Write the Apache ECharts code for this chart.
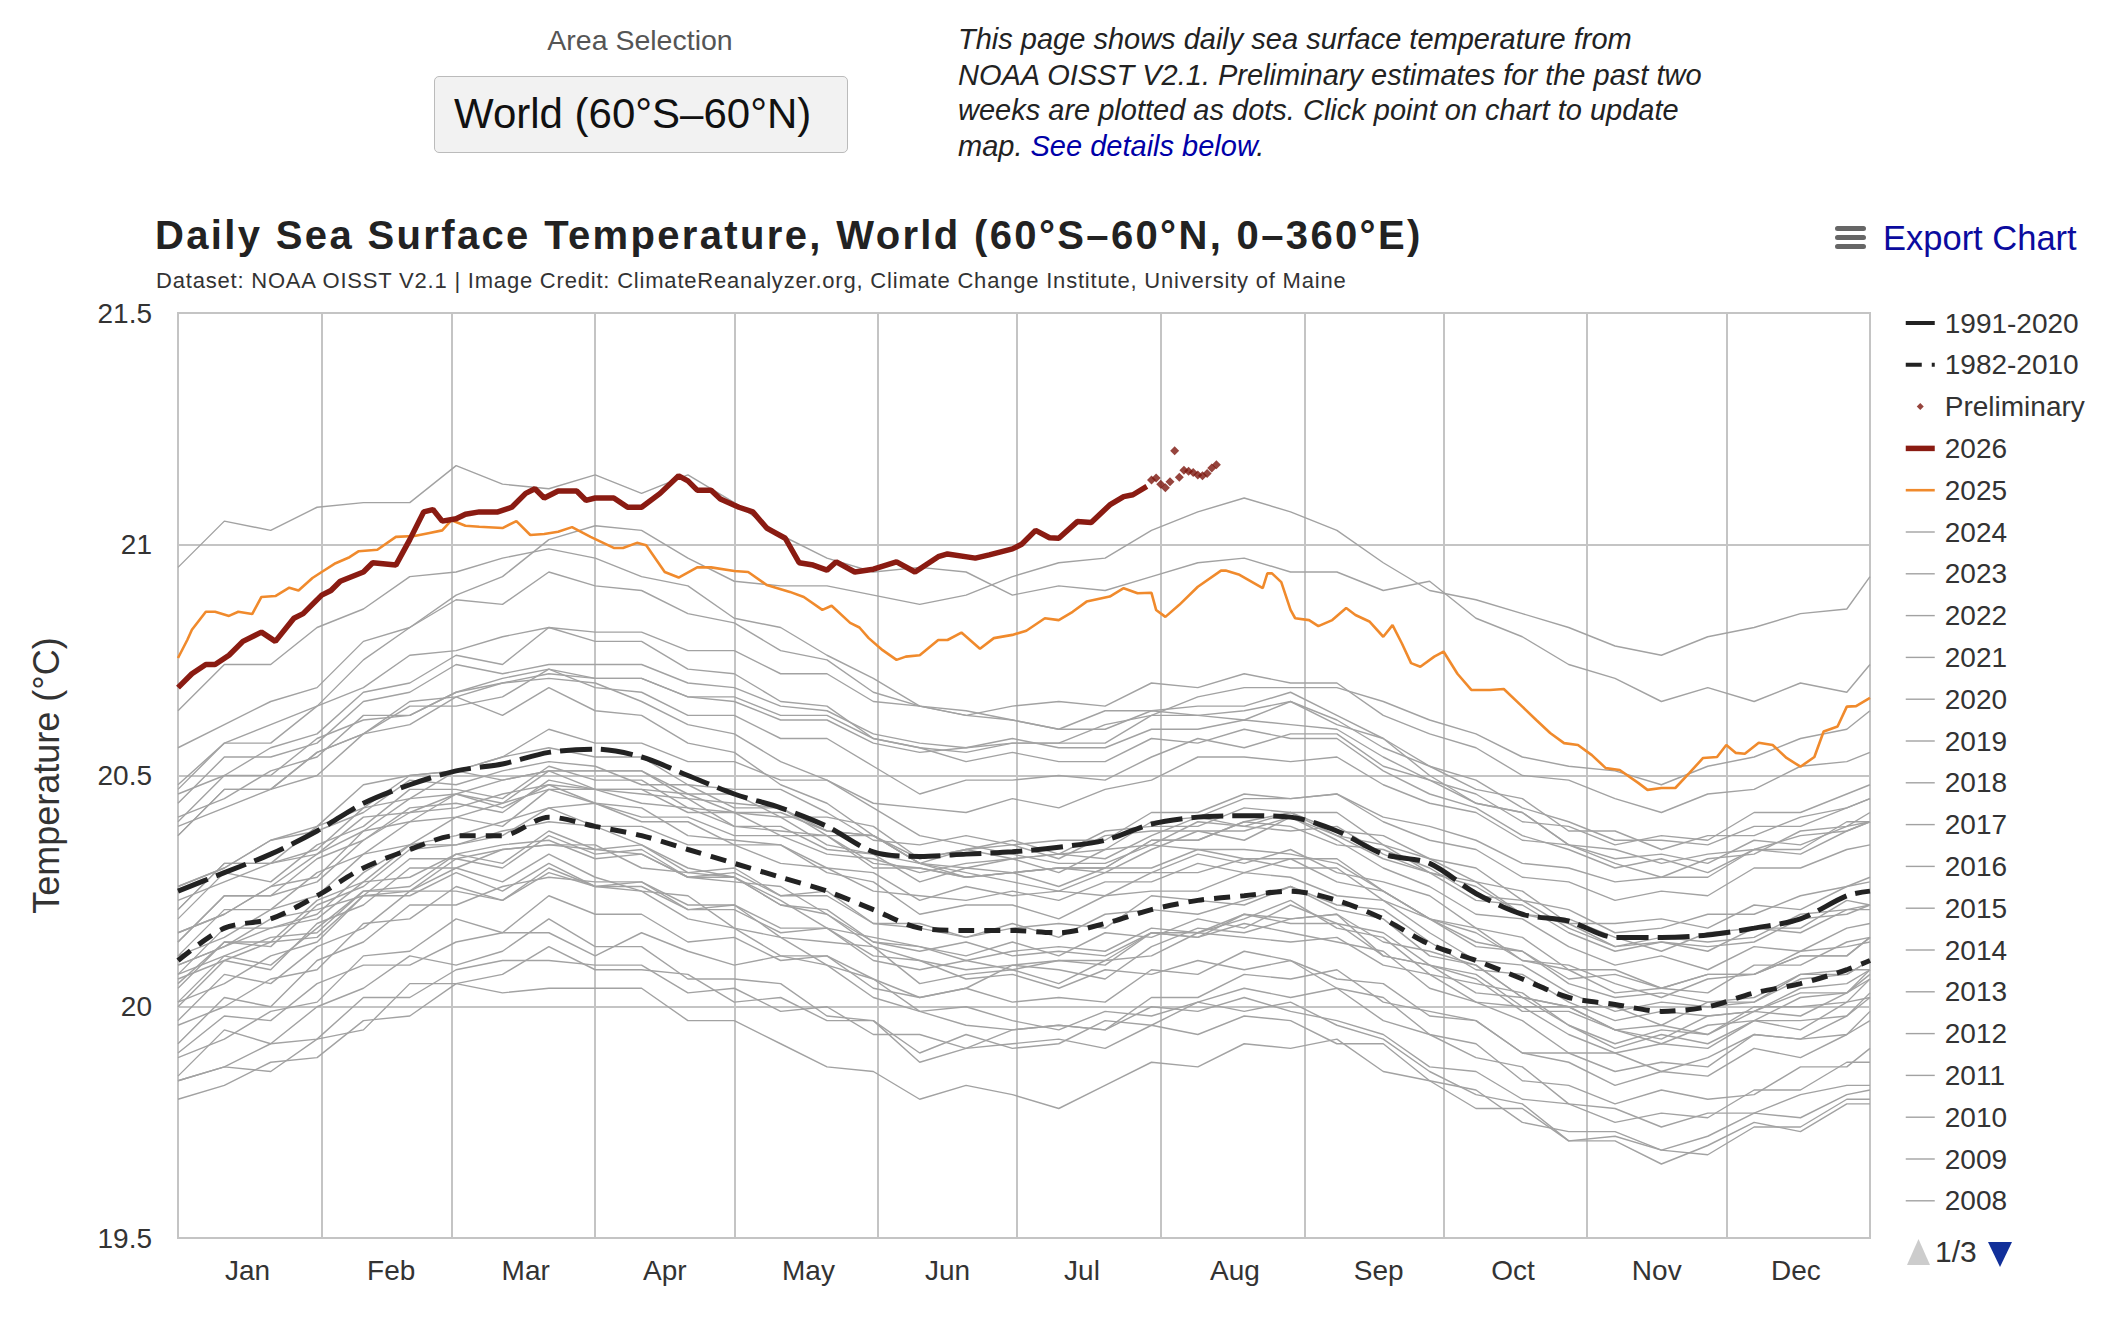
<!DOCTYPE html>
<html>
<head>
<meta charset="utf-8">
<title>Daily Sea Surface Temperature</title>
<script src="https://cdn.jsdelivr.net/npm/echarts@6/dist/echarts.min.js"></script>
<style>
  html, body { margin: 0; padding: 0; background: #ffffff; width: 2128px; height: 1324px; overflow: hidden; }
  #chart { position: absolute; left: 0; top: 0; width: 2128px; height: 1324px; }
  .hdr { position: absolute; font-family: 'Liberation Sans', Arial, Helvetica, sans-serif; white-space: nowrap; }
  /* letter spacing of the chart title / subtitle (SVG text) */
  #chart svg text[style*="40px"] { letter-spacing: 2.35px; }
  #chart svg text[style*="22px"] { letter-spacing: 0.8px; }
</style>
</head>
<body>
<div id="chart"></div>
<div class="hdr" style="left:440px; top:25px; width:400px; text-align:center; font-size:28.5px; line-height:30px; color:#555;">Area Selection</div>
<div class="hdr" style="left:434px; top:76px; width:414px; height:77px; box-sizing:border-box; background:#f2f2f2; border:1.5px solid #bbbbbb; border-radius:5px; font-size:42px; line-height:74px; padding-left:19px; color:#111;">World (60°S–60°N)</div>
<div class="hdr" style="left:958px; top:22px; font-size:29px; line-height:35.5px; font-style:italic; color:#222;">This page shows daily sea surface temperature from<br>NOAA OISST V2.1. Preliminary estimates for the past two<br>weeks are plotted as dots. Click point on chart to update<br>map. <span style="color:#0000a8;">See details below</span>.</div>
<script>
const FONT = "'Liberation Sans', Arial, Helvetica, sans-serif";

// ---------- axis scaffolding (day boundaries 0..365, 0 = start of Jan 1) ----------
const MONTHS = ['Jan','Feb','Mar','Apr','May','Jun','Jul','Aug','Sep','Oct','Nov','Dec'];
const MONTH_START_IDX = [0,31,59,90,120,151,181,212,243,273,304,334,365];
const MONTH_LABEL_IDX = [15,46,75,105,136,166,195,228,259,288,319,349];
const DAY_CATEGORIES = Array.from({length: 366}, (_, i) => String(i));
const Y_MIN = 19.5, Y_MAX = 21.5, Y_STEP = 0.5;
const LEGEND_PAGE_TEXT = '1/3';

// ---------- sampled days ----------
const SAMPLE_DAYS = [0,10,20,30,40,50,60,70,80,90,100,110,120,130,140,150,160,170,180,190,200,210,220,230,240,250,260,270,280,290,300,310,320,330,340,350,360,365];

// ---------- climatologies ----------
const MEAN_1991_2020 = [20.25,20.29,20.33,20.38,20.44,20.48,20.51,20.525,20.55,20.557,20.54,20.50,20.46,20.43,20.39,20.335,20.325,20.33,20.335,20.345,20.36,20.395,20.41,20.413,20.41,20.38,20.33,20.31,20.245,20.20,20.185,20.15,20.15,20.155,20.17,20.19,20.24,20.25];
const MEAN_1982_2010 = [20.10,20.17,20.19,20.24,20.30,20.34,20.37,20.37,20.41,20.39,20.37,20.34,20.31,20.28,20.25,20.21,20.17,20.165,20.165,20.16,20.18,20.21,20.23,20.24,20.25,20.23,20.19,20.135,20.10,20.06,20.02,20.005,19.99,20.00,20.03,20.05,20.08,20.10];

// ---------- 2026 (line) ----------
const DAYS_2026 = [0,3,6,8,11,14,18,21,25,27,31,33,35,40,42,47,50,53,55,57,60,62,65,69,72,75,77,79,82,86,88,90,94,97,100,104,108,110,112,115,117,121,124,127,131,134,137,140,142,146,150,155,159,164,166,172,175,180,182,185,188,190,194,197,201,204,206,209];
const VALS_2026 = [20.69,20.72,20.74,20.74,20.76,20.79,20.81,20.79,20.84,20.85,20.89,20.90,20.92,20.94,20.96,20.955,21.01,21.07,21.075,21.05,21.055,21.065,21.07,21.07,21.08,21.11,21.12,21.10,21.115,21.115,21.095,21.10,21.10,21.08,21.08,21.11,21.148,21.137,21.117,21.117,21.098,21.08,21.07,21.035,21.013,20.96,20.955,20.944,20.962,20.94,20.946,20.962,20.94,20.973,20.979,20.97,20.977,20.99,21.0,21.03,21.014,21.013,21.049,21.047,21.085,21.103,21.107,21.125];

// ---------- preliminary (dots) ----------
const DAYS_PRELIM = [210,211,212,213,214,215,216,217,218,219,220,221,222,223,224];
const VALS_PRELIM = [21.139,21.143,21.13,21.122,21.135,21.202,21.145,21.16,21.158,21.155,21.15,21.148,21.153,21.165,21.172];

// ---------- 2025 (line) ----------
const DAYS_2025 = [0,2,3,6,8,11,13,16,18,21,24,26,29,31,34,37,39,43,47,51,54,57,59,62,65,70,73,76,79,82,85,89,94,96,99,101,105,108,112,115,120,123,127,132,135,139,141,145,147,149,152,155,157,160,164,166,169,173,176,180,183,187,190,193,196,201,204,207,210,211,213,216,220,225,226,229,234,235,236,238,240,241,244,246,249,252,254,257,260,262,264,266,268,271,273,276,279,283,286,290,293,296,299,302,305,308,311,315,317,320,323,326,329,332,334,336,338,341,344,347,350,353,355,358,360,362,365];
const VALS_2025 = [20.754,20.793,20.815,20.854,20.854,20.845,20.854,20.849,20.886,20.888,20.906,20.90,20.927,20.94,20.959,20.972,20.985,20.988,21.016,21.018,21.024,21.03,21.052,21.04,21.038,21.035,21.05,21.02,21.022,21.027,21.037,21.016,20.992,20.992,21.003,20.998,20.94,20.928,20.95,20.95,20.942,20.94,20.912,20.897,20.886,20.858,20.867,20.83,20.82,20.797,20.771,20.75,20.757,20.76,20.793,20.793,20.809,20.774,20.797,20.804,20.813,20.84,20.836,20.854,20.876,20.887,20.905,20.894,20.895,20.858,20.843,20.869,20.908,20.943,20.943,20.934,20.905,20.937,20.937,20.918,20.858,20.84,20.836,20.823,20.836,20.862,20.847,20.833,20.80,20.825,20.786,20.743,20.735,20.757,20.768,20.72,20.685,20.685,20.687,20.649,20.62,20.592,20.57,20.566,20.544,20.516,20.512,20.484,20.469,20.473,20.473,20.505,20.538,20.54,20.566,20.549,20.547,20.571,20.566,20.538,20.519,20.54,20.595,20.606,20.649,20.65,20.668];

// ---------- earlier years (sampled every 10 days, SAMPLE_DAYS) ----------
const Y1982 = [19.90,19.98,19.97,20.05,20.09,20.09,20.14,20.16,20.16,20.11,20.16,20.12,20.09,20.11,20.11,20.06,20.02,20.04,20.09,20.08,20.06,20.13,20.17,20.16,20.19,20.20,20.11,20.09,20.06,19.99,19.99,19.95,19.93,19.98,19.99,19.98,20.03,20.06];
const Y1983 = [20.05,20.14,20.13,20.22,20.26,20.34,20.35,20.38,20.40,20.39,20.35,20.30,20.28,20.22,20.20,20.13,20.10,20.06,20.07,20.04,20.08,20.07,20.10,20.08,20.10,20.04,20.02,19.94,19.89,19.87,19.79,19.78,19.74,19.77,19.77,19.81,19.83,19.83];
const Y1984 = [19.85,19.95,19.92,20.00,20.04,20.11,20.09,20.12,20.19,20.13,20.13,20.06,20.06,20.05,19.98,19.97,19.88,19.91,19.92,19.93,19.91,19.96,19.94,19.98,19.97,19.92,19.92,19.84,19.78,19.78,19.71,19.71,19.66,19.70,19.75,19.73,19.79,19.79];
const Y1985 = [19.80,19.83,19.88,19.89,19.97,19.98,20.05,20.03,20.04,20.04,20.04,19.97,19.97,19.92,19.87,19.86,19.80,19.83,19.81,19.78,19.83,19.88,19.87,19.92,19.91,19.93,19.86,19.84,19.82,19.75,19.73,19.73,19.69,19.72,19.77,19.76,19.81,19.82];
const Y1986 = [19.84,19.87,19.92,19.93,20.02,20.02,20.08,20.10,20.10,20.09,20.09,20.03,20.04,19.99,20.00,19.94,19.94,19.91,19.95,19.96,19.95,20.02,20.02,20.07,20.06,20.08,20.01,19.99,19.97,19.90,19.90,19.86,19.88,19.87,19.94,19.93,19.98,20.02];
const Y1987 = [20.00,20.10,20.08,20.18,20.22,20.30,20.30,20.34,20.35,20.34,20.35,20.29,20.30,20.24,20.25,20.18,20.18,20.15,20.17,20.18,20.17,20.24,20.23,20.22,20.26,20.22,20.21,20.14,20.08,20.07,20.01,19.97,19.99,19.98,19.99,20.04,20.05,20.08];
const Y1988 = [20.07,20.11,20.15,20.16,20.25,20.25,20.30,20.27,20.33,20.28,20.25,20.24,20.17,20.15,20.09,20.06,19.99,20.00,19.97,19.95,19.99,19.98,20.01,19.99,20.01,19.96,19.93,19.86,19.81,19.79,19.71,19.72,19.69,19.68,19.74,19.74,19.80,19.80];
const Y1989 = [19.84,19.87,19.86,19.93,19.95,20.05,20.05,20.07,20.13,20.08,20.08,20.07,20.01,20.02,19.97,19.97,19.90,19.94,19.91,19.92,19.97,19.96,20.01,20.04,20.02,20.04,19.97,19.94,19.92,19.84,19.83,19.79,19.82,19.80,19.81,19.87,19.87,19.91];
const Y1990 = [19.92,20.02,20.00,20.10,20.14,20.22,20.22,20.26,20.28,20.27,20.27,20.21,20.22,20.17,20.17,20.11,20.10,20.08,20.09,20.10,20.09,20.16,20.15,20.20,20.18,20.18,20.16,20.09,20.03,20.02,19.96,19.91,19.94,19.92,19.97,19.95,20.01,20.02];
const Y1991 = [20.01,20.05,20.11,20.14,20.24,20.25,20.32,20.30,20.37,20.33,20.34,20.28,20.27,20.26,20.20,20.14,20.13,20.11,20.14,20.11,20.16,20.15,20.19,20.17,20.22,20.18,20.11,20.09,20.07,20.00,20.00,19.95,19.92,19.96,19.97,20.02,20.03,20.08];
const Y1992 = [20.06,20.10,20.14,20.15,20.24,20.24,20.29,20.25,20.31,20.26,20.25,20.19,20.17,20.11,20.09,20.02,19.99,19.96,19.95,19.96,19.95,20.00,19.99,20.02,19.99,19.97,19.94,19.87,19.86,19.80,19.79,19.75,19.77,19.76,19.82,19.82,19.88,19.88];
const Y1993 = [19.89,19.93,19.99,20.01,20.11,20.12,20.19,20.16,20.24,20.20,20.20,20.14,20.15,20.10,20.11,20.04,20.02,20.04,20.01,20.02,20.01,20.08,20.07,20.12,20.10,20.06,20.05,19.98,19.97,19.90,19.88,19.83,19.86,19.85,19.91,19.89,19.94,19.97];
const Y1994 = [19.96,20.00,20.06,20.08,20.18,20.19,20.26,20.23,20.29,20.26,20.26,20.21,20.21,20.16,20.17,20.10,20.08,20.10,20.08,20.10,20.10,20.16,20.16,20.20,20.19,20.20,20.14,20.12,20.09,20.02,20.00,20.00,19.96,20.01,20.01,20.07,20.07,20.10];
const Y1995 = [20.09,20.13,20.19,20.21,20.24,20.32,20.32,20.34,20.35,20.35,20.30,20.29,20.28,20.22,20.21,20.14,20.12,20.14,20.11,20.12,20.11,20.16,20.15,20.18,20.16,20.14,20.12,20.04,20.01,19.97,19.90,19.90,19.86,19.89,19.94,19.93,19.94,19.99];
const Y1996 = [19.97,20.07,20.05,20.13,20.17,20.25,20.25,20.23,20.30,20.26,20.27,20.22,20.22,20.15,20.14,20.13,20.05,20.07,20.08,20.05,20.10,20.11,20.16,20.15,20.14,20.15,20.09,20.07,20.01,20.00,19.94,19.90,19.92,19.91,19.97,19.97,19.98,20.03];
const Y1997 = [20.04,20.14,20.14,20.23,20.27,20.35,20.37,20.40,20.43,20.44,20.41,20.41,20.37,20.37,20.33,20.32,20.29,20.31,20.32,20.33,20.34,20.40,20.41,20.45,20.45,20.46,20.41,20.39,20.36,20.31,20.30,20.27,20.28,20.28,20.34,20.34,20.40,20.40];
const Y1998 = [20.40,20.50,20.50,20.58,20.62,20.63,20.68,20.70,20.71,20.70,20.66,20.61,20.59,20.53,20.49,20.43,20.37,20.35,20.33,20.31,20.31,20.35,20.34,20.34,20.33,20.31,20.25,20.19,20.14,20.12,20.05,20.02,20.03,20.01,20.02,20.07,20.08,20.08];
const Y1999 = [20.09,20.13,20.17,20.19,20.27,20.28,20.33,20.35,20.36,20.32,20.33,20.28,20.28,20.23,20.17,20.15,20.13,20.10,20.12,20.13,20.12,20.17,20.16,20.19,20.23,20.17,20.15,20.07,20.05,20.03,19.96,19.92,19.95,19.94,20.00,20.00,20.01,20.06];
const Y2000 = [20.01,20.11,20.09,20.17,20.25,20.26,20.33,20.31,20.38,20.34,20.33,20.28,20.29,20.24,20.24,20.18,20.17,20.15,20.18,20.15,20.20,20.21,20.20,20.23,20.26,20.21,20.19,20.11,20.09,20.02,20.00,19.95,19.96,19.94,19.99,20.03,20.03,20.07];
const Y2001 = [20.11,20.15,20.21,20.24,20.33,20.35,20.41,20.39,20.47,20.44,20.40,20.40,20.35,20.35,20.30,20.29,20.23,20.26,20.24,20.25,20.24,20.29,20.33,20.31,20.34,20.29,20.27,20.24,20.17,20.15,20.08,20.08,20.04,20.07,20.07,20.11,20.11,20.15];
const Y2002 = [20.16,20.20,20.26,20.28,20.38,20.40,20.46,20.44,20.51,20.47,20.46,20.45,20.39,20.38,20.37,20.30,20.30,20.28,20.29,20.30,20.29,20.34,20.38,20.36,20.41,20.37,20.32,20.29,20.26,20.20,20.19,20.15,20.12,20.16,20.17,20.17,20.23,20.22];
const Y2003 = [20.26,20.30,20.36,20.38,20.42,20.49,20.48,20.51,20.53,20.52,20.48,20.48,20.43,20.43,20.38,20.37,20.31,20.34,20.32,20.29,20.34,20.35,20.40,20.39,20.38,20.39,20.33,20.29,20.27,20.20,20.18,20.13,20.14,20.12,20.17,20.16,20.21,20.22];
const Y2004 = [20.19,20.29,20.27,20.35,20.39,20.47,20.47,20.45,20.52,20.49,20.49,20.43,20.42,20.41,20.35,20.33,20.31,20.28,20.29,20.30,20.30,20.36,20.36,20.40,20.39,20.35,20.34,20.30,20.24,20.23,20.17,20.13,20.15,20.14,20.15,20.20,20.21,20.21];
const Y2005 = [20.21,20.31,20.31,20.39,20.43,20.50,20.51,20.54,20.56,20.54,20.54,20.48,20.47,20.47,20.42,20.36,20.35,20.37,20.35,20.32,20.37,20.38,20.38,20.38,20.41,20.36,20.30,20.26,20.20,20.19,20.13,20.09,20.11,20.08,20.13,20.12,20.17,20.18];
const Y2006 = [20.14,20.24,20.24,20.32,20.36,20.43,20.44,20.42,20.49,20.47,20.47,20.42,20.42,20.37,20.37,20.31,20.30,20.28,20.29,20.30,20.30,20.36,20.36,20.40,20.42,20.38,20.37,20.32,20.27,20.25,20.18,20.18,20.19,20.17,20.22,20.21,20.26,20.28];
const Y2007 = [20.23,20.27,20.31,20.33,20.41,20.42,20.46,20.43,20.48,20.44,20.43,20.37,20.36,20.35,20.29,20.27,20.20,20.22,20.22,20.19,20.24,20.25,20.25,20.29,20.28,20.24,20.23,20.16,20.10,20.09,20.03,19.99,20.01,20.00,20.01,20.06,20.07,20.10];
const Y2008 = [20.07,20.17,20.17,20.20,20.29,20.35,20.35,20.37,20.43,20.39,20.39,20.35,20.35,20.31,20.30,20.25,20.24,20.23,20.25,20.23,20.27,20.27,20.31,20.29,20.32,20.27,20.25,20.19,20.17,20.10,20.08,20.03,20.04,20.07,20.07,20.11,20.11,20.15];
const Y2009 = [20.14,20.24,20.24,20.27,20.36,20.42,20.43,20.46,20.48,20.47,20.47,20.46,20.42,20.42,20.38,20.37,20.32,20.34,20.35,20.36,20.36,20.42,20.42,20.46,20.45,20.46,20.40,20.36,20.34,20.28,20.27,20.23,20.25,20.24,20.30,20.30,20.34,20.35];
const Y2010 = [20.37,20.47,20.47,20.55,20.59,20.61,20.67,20.63,20.69,20.64,20.63,20.57,20.55,20.48,20.44,20.37,20.31,20.29,20.27,20.25,20.29,20.29,20.29,20.32,20.30,20.30,20.23,20.19,20.13,20.12,20.06,20.07,20.04,20.03,20.09,20.09,20.14,20.15];
const Y2011 = [20.11,20.21,20.21,20.29,20.33,20.40,20.41,20.44,20.47,20.47,20.44,20.43,20.39,20.39,20.34,20.33,20.27,20.30,20.29,20.26,20.30,20.30,20.34,20.32,20.32,20.32,20.25,20.19,20.16,20.10,20.09,20.05,20.02,20.06,20.07,20.12,20.13,20.14];
const Y2012 = [20.16,20.20,20.26,20.33,20.38,20.45,20.46,20.49,20.51,20.51,20.51,20.46,20.46,20.41,20.41,20.39,20.32,20.34,20.36,20.33,20.38,20.39,20.39,20.43,20.42,20.37,20.35,20.29,20.23,20.22,20.16,20.12,20.14,20.13,20.14,20.19,20.20,20.22];
const Y2013 = [20.21,20.31,20.31,20.34,20.43,20.45,20.51,20.49,20.51,20.51,20.51,20.45,20.44,20.43,20.37,20.37,20.31,20.30,20.32,20.33,20.32,20.37,20.41,20.39,20.42,20.42,20.35,20.32,20.30,20.23,20.21,20.16,20.17,20.20,20.20,20.24,20.26,20.27];
const Y2014 = [20.26,20.30,20.36,20.39,20.48,20.50,20.51,20.54,20.60,20.57,20.57,20.53,20.53,20.49,20.49,20.44,20.43,20.42,20.45,20.43,20.47,20.49,20.54,20.54,20.53,20.54,20.48,20.44,20.42,20.36,20.35,20.31,20.28,20.32,20.33,20.38,20.39,20.42];
const Y2015 = [20.41,20.45,20.51,20.54,20.63,20.63,20.68,20.71,20.73,20.71,20.71,20.67,20.67,20.63,20.63,20.58,20.56,20.55,20.57,20.57,20.61,20.63,20.67,20.69,20.69,20.69,20.66,20.62,20.59,20.54,20.52,20.51,20.48,20.52,20.54,20.58,20.60,20.64];
const Y2016 = [20.64,20.74,20.74,20.82,20.86,20.93,20.94,20.97,20.99,20.97,20.93,20.91,20.84,20.82,20.76,20.71,20.65,20.64,20.62,20.60,20.64,20.64,20.65,20.65,20.68,20.63,20.58,20.52,20.49,20.43,20.40,20.36,20.36,20.35,20.39,20.39,20.43,20.45];
const Y2017 = [20.46,20.50,20.56,20.59,20.68,20.70,20.76,20.74,20.82,20.79,20.79,20.73,20.72,20.66,20.65,20.58,20.56,20.53,20.55,20.53,20.53,20.58,20.57,20.60,20.58,20.58,20.51,20.46,20.43,20.37,20.34,20.30,20.32,20.29,20.34,20.33,20.38,20.40];
const Y2018 = [20.37,20.47,20.47,20.50,20.59,20.65,20.65,20.67,20.73,20.69,20.68,20.63,20.63,20.58,20.58,20.52,20.46,20.49,20.49,20.50,20.49,20.54,20.58,20.56,20.59,20.59,20.52,20.49,20.46,20.40,20.39,20.35,20.37,20.36,20.42,20.42,20.46,20.48];
const Y2019 = [20.47,20.57,20.57,20.65,20.69,20.76,20.77,20.80,20.82,20.81,20.81,20.77,20.77,20.72,20.72,20.66,20.65,20.63,20.65,20.66,20.65,20.70,20.69,20.72,20.70,20.70,20.63,20.59,20.56,20.50,20.49,20.45,20.42,20.46,20.47,20.52,20.53,20.55];
const Y2020 = [20.56,20.61,20.66,20.69,20.79,20.82,20.88,20.87,20.94,20.91,20.90,20.85,20.83,20.77,20.75,20.68,20.65,20.63,20.62,20.60,20.60,20.64,20.63,20.64,20.66,20.61,20.58,20.50,20.44,20.42,20.35,20.34,20.31,20.33,20.34,20.37,20.38,20.40];
const Y2021 = [20.39,20.43,20.47,20.55,20.59,20.66,20.67,20.70,20.72,20.71,20.71,20.67,20.66,20.62,20.62,20.57,20.55,20.56,20.57,20.57,20.57,20.63,20.63,20.62,20.66,20.62,20.56,20.52,20.47,20.45,20.38,20.38,20.34,20.37,20.37,20.41,20.43,20.45];
const Y2022 = [20.44,20.54,20.54,20.57,20.66,20.68,20.74,20.72,20.74,20.74,20.74,20.70,20.69,20.65,20.64,20.59,20.57,20.56,20.58,20.56,20.56,20.60,20.60,20.62,20.61,20.60,20.54,20.49,20.44,20.42,20.35,20.32,20.33,20.31,20.36,20.35,20.39,20.40];
const Y2023 = [20.48,20.57,20.61,20.65,20.75,20.82,20.89,20.93,21.01,21.04,21.03,20.97,20.92,20.91,20.91,20.89,20.87,20.89,20.93,20.96,20.97,21.03,21.07,21.10,21.07,21.03,20.96,20.90,20.88,20.85,20.82,20.78,20.76,20.80,20.82,20.85,20.86,20.93];
const Y2024 = [20.95,21.05,21.03,21.08,21.09,21.09,21.17,21.13,21.12,21.15,21.11,21.15,21.09,21.02,20.97,20.94,20.95,20.94,20.89,20.91,20.90,20.93,20.96,20.97,20.94,20.94,20.90,20.92,20.84,20.80,20.74,20.71,20.66,20.69,20.66,20.70,20.68,20.74];

const GRAY_YEARS = [
  [2024, Y2024],[2023, Y2023],[2022, Y2022],[2021, Y2021],[2020, Y2020],[2019, Y2019],[2018, Y2018],
  [2017, Y2017],[2016, Y2016],[2015, Y2015],[2014, Y2014],[2013, Y2013],[2012, Y2012],[2011, Y2011],
  [2010, Y2010],[2009, Y2009],[2008, Y2008],[2007, Y2007],[2006, Y2006],[2005, Y2005],[2004, Y2004],
  [2003, Y2003],[2002, Y2002],[2001, Y2001],[2000, Y2000],[1999, Y1999],[1998, Y1998],[1997, Y1997],
  [1996, Y1996],[1995, Y1995],[1994, Y1994],[1993, Y1993],[1992, Y1992],[1991, Y1991],[1990, Y1990],
  [1989, Y1989],[1988, Y1988],[1987, Y1987],[1986, Y1986],[1985, Y1985],[1984, Y1984],[1983, Y1983],
  [1982, Y1982]
];

// ---------- colours ----------
const C_2026 = '#8a1b12';
const C_PRELIM = '#7c150d';
const C_2025 = '#f08a2c';
const C_MEAN = '#222222';
const C_GRAY = '#a2a2a2';
const C_GRID = '#c4c4c4';

function pairs(days, vals) { return vals.map((v, i) => [days[i], v]); }

const series = [];
GRAY_YEARS.forEach(([yr, vals]) => {
  series.push({
    name: String(yr), type: 'line', data: pairs(SAMPLE_DAYS, vals),
    symbol: 'none', showSymbol: false, silent: true, z: 2,
    lineStyle: { color: C_GRAY, width: 1.4 }, itemStyle: { color: C_GRAY },
    emphasis: { disabled: true }
  });
});
series.push({
  name: '1982-2010', type: 'line', data: pairs(SAMPLE_DAYS, MEAN_1982_2010),
  symbol: 'none', smooth: 0.3, silent: true, z: 4,
  lineStyle: { color: C_MEAN, width: 5, type: [16, 10] }, itemStyle: { color: C_MEAN },
  emphasis: { disabled: true }
});
series.push({
  name: '1991-2020', type: 'line', data: pairs(SAMPLE_DAYS, MEAN_1991_2020),
  symbol: 'none', smooth: 0.3, silent: true, z: 4,
  lineStyle: { color: C_MEAN, width: 5, type: [32, 9] }, itemStyle: { color: C_MEAN },
  emphasis: { disabled: true }
});
series.push({
  name: '2025', type: 'line', data: pairs(DAYS_2025, VALS_2025),
  symbol: 'none', silent: true, z: 5,
  lineStyle: { color: C_2025, width: 2.6 }, itemStyle: { color: C_2025 },
  emphasis: { disabled: true }
});
series.push({
  name: '2026', type: 'line', data: pairs(DAYS_2026, VALS_2026),
  symbol: 'none', silent: true, z: 6,
  lineStyle: { color: C_2026, width: 5.5 }, itemStyle: { color: C_2026 },
  emphasis: { disabled: true }
});
series.push({
  name: 'Preliminary', type: 'scatter', data: pairs(DAYS_PRELIM, VALS_PRELIM),
  symbol: 'diamond', symbolSize: 9, silent: true, z: 7,
  itemStyle: { color: C_PRELIM }, emphasis: { disabled: true }
});

// legend: first page of the reference's paged legend
const LEGEND_PAGE1 = ['1991-2020', '1982-2010', 'Preliminary', '2026', '2025',
  '2024','2023','2022','2021','2020','2019','2018','2017','2016','2015','2014','2013','2012','2011','2010','2009','2008'];
const LEGEND_LINE_WIDTH = { '1991-2020': 4, '1982-2010': 4, '2026': 5.5, '2025': 2.6 };
const legendData = LEGEND_PAGE1.map(name => {
  if (name === 'Preliminary') {
    return { name, icon: 'path://M0,0M29,8M14.5,0.5L18,4L14.5,7.5L11,4Z' };
  }
  return { name, itemStyle: { opacity: 0 }, lineStyle: { width: LEGEND_LINE_WIDTH[name] || 1.4 } };
});

const chart = echarts.init(document.getElementById('chart'), null, { renderer: 'svg', width: 2128, height: 1324 });
chart.setOption({
  animation: false,
  backgroundColor: 'transparent',
  textStyle: { fontFamily: FONT },
  title: [
    {
      text: 'Daily Sea Surface Temperature, World (60°S–60°N, 0–360°E)',
      left: 155, top: 215, padding: 0,
      textStyle: { fontSize: 40, fontWeight: 'bold', color: '#222', fontFamily: FONT }
    },
    {
      text: 'Dataset: NOAA OISST V2.1 | Image Credit: ClimateReanalyzer.org, Climate Change Institute, University of Maine',
      left: 156, top: 269, padding: 0,
      textStyle: { fontSize: 22, fontWeight: 'normal', color: '#333', fontFamily: FONT }
    }
  ],
  graphic: [
    { type: 'rect', left: 1835, top: 226, shape: { width: 31, height: 5, r: 2.5 }, style: { fill: '#666' } },
    { type: 'rect', left: 1835, top: 235, shape: { width: 31, height: 5, r: 2.5 }, style: { fill: '#666' } },
    { type: 'rect', left: 1835, top: 244, shape: { width: 31, height: 5, r: 2.5 }, style: { fill: '#666' } },
    { type: 'text', left: 1883, top: 220, style: { text: 'Export Chart', fontSize: 34.5, fill: '#0b0b9e', fontFamily: FONT } },
    // legend pager
    { type: 'polygon', shape: { points: [[1907, 1265], [1930, 1265], [1918.5, 1239]] }, style: { fill: '#cccccc' } },
    { type: 'text', left: 1935, top: 1236, style: { text: LEGEND_PAGE_TEXT, fontSize: 30, fill: '#333', fontFamily: FONT } },
    { type: 'polygon', shape: { points: [[1988, 1242], [2012, 1242], [2000, 1267]] }, style: { fill: '#12309a' } }
  ],
  grid: {
    left: 178, right: 258, top: 313, bottom: 86,
    show: true, borderColor: C_GRID, borderWidth: 2, containLabel: false
  },
  xAxis: {
    type: 'category', data: DAY_CATEGORIES, boundaryGap: false,
    axisLine: { show: false }, axisTick: { show: false },
    splitLine: { show: true, interval: (i) => MONTH_START_IDX.indexOf(i) >= 0, lineStyle: { color: C_GRID, width: 2 } },
    axisLabel: {
      interval: (i) => MONTH_LABEL_IDX.indexOf(i) >= 0,
      formatter: (v, i) => MONTHS[MONTH_LABEL_IDX.indexOf(i)] || '',
      fontSize: 28, color: '#333', margin: 18, fontFamily: FONT
    }
  },
  yAxis: {
    type: 'value', min: Y_MIN, max: Y_MAX, interval: Y_STEP,
    axisLine: { show: false }, axisTick: { show: false },
    splitLine: { lineStyle: { color: C_GRID, width: 2 } },
    axisLabel: { fontSize: 28, color: '#333', margin: 26, fontFamily: FONT },
    name: 'Temperature (°C)', nameLocation: 'middle', nameRotate: 90, nameGap: 114,
    nameTextStyle: { fontSize: 36, color: '#333', fontFamily: FONT }
  },
  legend: {
    orient: 'vertical', left: 1903, top: 308, padding: 0,
    itemWidth: 29, itemHeight: 8, itemGap: 11.8,
    data: legendData, selectedMode: false,
    textStyle: { fontSize: 28, color: '#333', lineHeight: 30, fontFamily: FONT, padding: [0, 0, 0, 5] }
  },
  series: series
});
</script>
</body>
</html>
